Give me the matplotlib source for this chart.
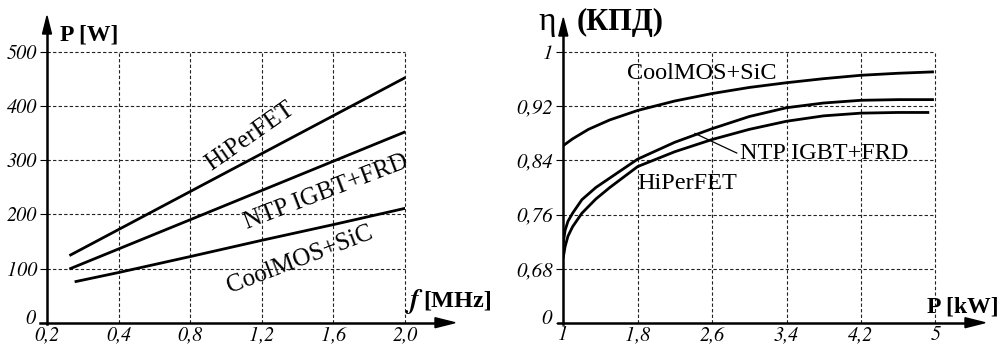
import numpy as np
import matplotlib
matplotlib.use("Agg")
import matplotlib.pyplot as plt
from matplotlib.transforms import ScaledTranslation

plt.rcParams['font.family'] = ['Liberation Serif', 'DejaVu Serif']
ITAL = ['STIXGeneral', 'DejaVu Serif']

# left chart: switching power vs frequency
f_ticks = [0.0, 0.4, 0.8, 1.2, 1.6, 2.0]
f_labels = ["0,2", "0,4", "0,8", "1,2", "1,6", "2,0"]
p_ticks = [0, 100, 200, 300, 400, 500]

f_hiper = [0.132, 0.8, 1.2, 1.6, 2.0]
p_hiper = [125, 242, 312, 382, 452]
f_ntp = [0.132, 0.8, 1.2, 1.6, 2.0]
p_ntp = [100, 190, 244, 298, 352]
f_cool = [0.162, 0.4, 0.8, 1.2, 1.6, 2.0]
p_cool = [76, 92.6, 122, 152, 181, 211]

# right chart: efficiency vs power
pk_ticks = [1, 1.8, 2.6, 3.4, 4.2, 5]
pk_labels = ["1", "1,8", "2,6", "3,4", "4,2", "5"]
eta_ticks = [0.6, 0.68, 0.76, 0.84, 0.92, 1.0]
eta_labels = ["0", "0,68", "0,76", "0,84", "0,92", "1"]

pk_cool = [1.0, 1.1, 1.27, 1.5, 1.8, 2.2, 2.6, 3.0, 3.4, 3.8, 4.2, 4.6, 4.97]
eta_cool = [0.862, 0.872, 0.886, 0.900, 0.914, 0.928, 0.939, 0.948, 0.955, 0.961, 0.966, 0.969, 0.971]
pk_ntp = [1.0, 1.02, 1.05, 1.1, 1.2, 1.35, 1.5, 1.8, 2.2, 2.6, 3.0, 3.4, 3.8, 4.2, 4.6, 4.97]
eta_ntp = [0.719, 0.737, 0.750, 0.762, 0.782, 0.800, 0.814, 0.842, 0.867, 0.887, 0.905, 0.918, 0.925, 0.929, 0.930, 0.930]
pk_hiper = [1.0, 1.02, 1.05, 1.1, 1.2, 1.35, 1.5, 1.8, 2.2, 2.6, 3.0, 3.4, 3.8, 4.2, 4.6, 4.92]
eta_hiper = [0.697, 0.713, 0.728, 0.742, 0.762, 0.783, 0.800, 0.831, 0.853, 0.871, 0.886, 0.898, 0.906, 0.910, 0.911, 0.911]

W, H = 1000, 347
fig = plt.figure(figsize=(10, 3.47), dpi=100)


def px(x, y):
    return x / W, 1 - y / H


def setup(ax, xt, xl, yt, yl, ysize):
    for s in ax.spines.values():
        s.set_visible(False)
    ax.set_xticks(xt)
    ax.set_xticklabels(xl, fontsize=14.5, family=ITAL, style='italic')
    ax.set_yticks(yt)
    ax.set_yticklabels(yl, fontsize=ysize, family=ITAL, style='italic')
    ax.tick_params(axis='x', length=0, pad=2)
    ax.tick_params(axis='y', length=5, width=0.8, pad=2)
    # lift the "0" at the origin a bit so it clears the x labels
    lbl = ax.get_yticklabels()[0]
    lbl.set_transform(lbl.get_transform() + ScaledTranslation(-1 / 72, 4 / 72, fig.dpi_scale_trans))
    x0, x1 = ax.get_xlim()
    y0, y1 = ax.get_ylim()
    ax.hlines(yt[1:], x0, x1, colors='#222222', linestyles=(0, (3, 2)), lw=0.8, clip_on=False)
    ax.vlines(xt[1:], y0, y1, colors='#222222', linestyles=(0, (3, 2)), lw=0.8, clip_on=False)


def arrows(x0, y0, xend, ytop, xstart):
    # axis lines with arrow heads, pixel coords
    fig.add_artist(plt.Line2D([xstart / W, xend / W - 0.012], [1 - y0 / H] * 2, color='black', lw=1.8))
    fig.add_artist(plt.Line2D([x0 / W] * 2, [1 - (y0 + 1) / H, 1 - ytop / H - 0.03], color='black', lw=1.8))
    fig.patches.append(plt.Polygon([px(xend, y0), px(xend - 20, y0 - 5), px(xend - 20, y0 + 5)],
                                   closed=True, color='black', transform=fig.transFigure))
    fig.patches.append(plt.Polygon([px(x0, ytop), px(x0 - 4.5, ytop + 18), px(x0 + 4.5, ytop + 18)],
                                   closed=True, color='black', transform=fig.transFigure))


# ---- left
ax1 = fig.add_axes([47 / W, 1 - 322.7 / H, (405 - 47) / W, (322.7 - 51.7) / H])
ax1.set_xlim(0, 2.0)
ax1.set_ylim(0, 500)
setup(ax1, f_ticks, f_labels, p_ticks, [str(v) for v in p_ticks], 14.5)
ax1.plot(f_hiper, p_hiper, color='black', lw=2)
ax1.plot(f_ntp, p_ntp, color='black', lw=2)
ax1.plot(f_cool, p_cool, color='black', lw=2)
ax1.text(1.134, 343, "HiPerFET", rotation=35, ha='center', va='center', fontsize=18, rotation_mode='anchor')
ax1.text(1.559, 240, "NTP IGBT+FRD", rotation=21, ha='center', va='center', fontsize=18, rotation_mode='anchor')
ax1.text(1.413, 116, "CoolMOS+SiC", rotation=21, ha='center', va='center', fontsize=18, rotation_mode='anchor')
arrows(47, 322.7, 455, 16, 40)
fig.text(60 / W, 1 - 35 / H, "P [W]", fontsize=17, fontweight='bold', va='center', ha='left')
fig.text(492 / W, 1 - 301 / H, "[MHz]", fontsize=17.5, fontweight='bold', va='center', ha='right')
fig.text(419 / W, 1 - 301 / H, "f", fontsize=20, fontweight='bold', style='italic', family=ITAL,
         va='center', ha='right')

# ---- right
ax2 = fig.add_axes([563.3 / W, 1 - 322.7 / H, (935.3 - 563.3) / W, (322.7 - 52.3) / H])
ax2.set_xlim(1, 5)
ax2.set_ylim(0.6, 1.0)
setup(ax2, pk_ticks, pk_labels, eta_ticks, eta_labels, 15)
ax2.plot(pk_cool, eta_cool, color='black', lw=2)
ax2.plot(pk_ntp, eta_ntp, color='black', lw=2)
ax2.plot(pk_hiper, eta_hiper, color='black', lw=2)
ax2.text(1.69, 0.968, "CoolMOS+SiC", ha='left', va='center', fontsize=17.5)
ax2.text(2.9, 0.851, "NTP IGBT+FRD", ha='left', va='center', fontsize=17.5)
ax2.text(1.80, 0.8055, "HiPerFET", ha='left', va='center', fontsize=17.5)
ax2.plot([2.415, 2.865], [0.880, 0.851], color='black', lw=0.9)
arrows(563.3, 322.7, 985, 18, 558)
fig.text(556 / W, 1 - 30 / H, "η", fontsize=24, ha='right', va='baseline')
fig.text(577 / W, 1 - 30 / H, "(КПД)", fontsize=22, fontweight='bold', ha='left', va='baseline')
fig.text(999 / W, 1 - 307 / H, "P [kW]", fontsize=17, fontweight='bold', ha='right', va='center')

fig.savefig("out.png", dpi=100, facecolor='white')
